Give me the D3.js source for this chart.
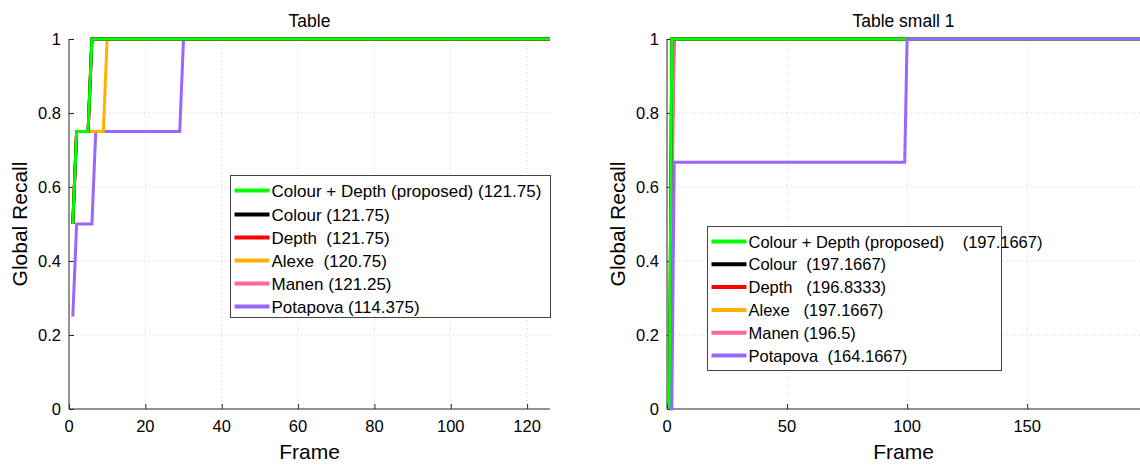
<!DOCTYPE html>
<html>
<head>
<meta charset="utf-8">
<script src="https://cdn.jsdelivr.net/npm/d3@7"></script>
<style>
  body { margin: 0; background: #fff; }
  text { font-family: "Liberation Sans", Arial, sans-serif; fill: #000; }
</style>
</head>
<body>
<div id="vis"></div>
<script>
const width = 1140;
const height = 465;

// series are change points [frame, global recall]
const methods = ["Colour + Depth (proposed)", "Colour", "Depth", "Alexe", "Manen", "Potapova"];
const colours = ["#00ff00", "#000000", "#ff0000", "#ffb000", "#ff6699", "#9966ff"];

const tableLabels = [
  "Colour + Depth (proposed) (121.75)",
  "Colour (121.75)",
  "Depth  (121.75)",
  "Alexe  (120.75)",
  "Manen (121.25)",
  "Potapova (114.375)"
];
const tableSeries = [
  [[1, 0.5], [2, 0.75], [5, 0.75], [6, 1], [126, 1]],
  [[1, 0.5], [2, 0.75], [5, 0.75], [6, 1], [126, 1]],
  [[1, 0.5], [2, 0.75], [5, 0.75], [6, 1], [126, 1]],
  [[1, 0.5], [2, 0.75], [9, 0.75], [10, 1], [126, 1]],
  [[1, 0.5], [2, 0.75], [5, 0.75], [6, 1], [126, 1]],
  [[1, 0.25], [2, 0.5], [6, 0.5], [7, 0.75], [29, 0.75], [30, 1], [126, 1]]
];
const tableXTicks = [0, 20, 40, 60, 80, 100, 120];

const smallLabels = [
  "Colour + Depth (proposed)    (197.1667)",
  "Colour  (197.1667)",
  "Depth   (196.8333)",
  "Alexe   (197.1667)",
  "Manen (196.5)",
  "Potapova  (164.1667)"
];
const smallSeries = [
  [[1, 0], [2, 1], [197, 1]],
  [[1, 0], [2, 1], [197, 1]],
  [[1, 0], [2, 0.6667], [3, 1], [197, 1]],
  [[1, 0], [2, 1], [197, 1]],
  [[1, 0], [2, 0.5], [3, 1], [197, 1]],
  [[1, 0], [2, 0], [3, 0.6667], [99, 0.6667], [100, 1], [197, 1]]
];
const smallXTicks = [0, 50, 100, 150];

const yTicks = [0, 0.2, 0.4, 0.6, 0.8, 1];

const svg = d3.select("#vis")
  .append("svg")
  .attr("width", width)
  .attr("height", height);

function drawPanel(opt) {
  const x = d3.scaleLinear().domain(opt.xDomain).range(opt.xRange);
  const y = d3.scaleLinear().domain([0, 1]).range([409, 39]);
  const g = svg.append("g");

  // dotted grid
  g.selectAll(".gx")
    .data(opt.xTicks.filter(t => t > 0))
    .enter()
    .append("line")
    .attr("x1", d => x(d)).attr("x2", d => x(d))
    .attr("y1", y(0)).attr("y2", y(1))
    .attr("stroke", "#cfcfcf")
    .attr("stroke-dasharray", "1,3");
  g.selectAll(".gy")
    .data(yTicks.filter(t => t > 0))
    .enter()
    .append("line")
    .attr("x1", x(opt.xDomain[0])).attr("x2", opt.xRange[1])
    .attr("y1", d => y(d)).attr("y2", d => y(d))
    .attr("stroke", "#cfcfcf")
    .attr("stroke-dasharray", "1,3");

  // axes, ticks pointing inwards
  const xAxis = g.append("g")
    .attr("transform", `translate(0,${y(0)})`)
    .call(d3.axisTop(x).tickValues(opt.xTicks).tickSize(5).tickFormat(""));
  xAxis.select(".domain").attr("d", `M${opt.xRange[0]},0H${opt.xRange[1]}`);
  const yAxis = g.append("g")
    .attr("transform", `translate(${x(0)},0)`)
    .call(d3.axisRight(y).tickValues(yTicks).tickSize(5).tickFormat(""));
  yAxis.select(".domain").attr("d", `M0,${y(0)}V${y(1)}`);
  g.selectAll(".domain, .tick line").attr("stroke", "#262626");

  g.selectAll(".xl")
    .data(opt.xTicks)
    .enter()
    .append("text")
    .attr("x", d => x(d))
    .attr("y", 432)
    .attr("text-anchor", "middle")
    .attr("font-size", "16.5px")
    .text(d => d);
  g.selectAll(".yl")
    .data(yTicks)
    .enter()
    .append("text")
    .attr("x", x(0) - 8)
    .attr("y", d => y(d) + 6)
    .attr("text-anchor", "end")
    .attr("font-size", "16.5px")
    .text(d => d3.format("~g")(d));

  // lines
  const line = d3.line().x(d => x(d[0])).y(d => y(d[1]));
  opt.order.forEach(i => {
    g.append("path")
      .datum(opt.series[i])
      .attr("fill", "none")
      .attr("stroke", colours[i])
      .attr("stroke-width", 3)
      .attr("d", line);
  });

  g.append("text")
    .attr("x", (opt.xRange[0] + opt.xRange[1]) / 2)
    .attr("y", 27)
    .attr("text-anchor", "middle")
    .attr("font-size", "17.5px")
    .text(opt.title);
  g.append("text")
    .attr("x", (opt.xRange[0] + opt.xRange[1]) / 2)
    .attr("y", 459)
    .attr("text-anchor", "middle")
    .attr("font-size", "21px")
    .text("Frame");
  g.append("text")
    .attr("transform", `translate(${opt.xRange[0] - 42},224) rotate(-90)`)
    .attr("text-anchor", "middle")
    .attr("font-size", "21px")
    .text("Global Recall");

  // legend
  const lg = g.append("g").attr("transform", `translate(${opt.legend[0]},${opt.legend[1]})`);
  lg.append("rect")
    .attr("width", opt.legend[2])
    .attr("height", opt.legend[3])
    .attr("fill", "#fff")
    .attr("stroke", "#444");
  methods.forEach((m, i) => {
    const cy = opt.legendTop + i * opt.legendStep + (i > 0 ? opt.legendGap : 0);
    lg.append("line")
      .attr("x1", 4).attr("x2", 39)
      .attr("y1", cy).attr("y2", cy)
      .attr("stroke", colours[i])
      .attr("stroke-width", 4);
    lg.append("text")
      .attr("x", 41)
      .attr("y", cy + 6)
      .attr("font-size", opt.legendFont)
      .style("white-space", "pre")
      .text(opt.labels[i]);
  });
}

drawPanel({
  title: "Table",
  xDomain: [0, 126],
  xRange: [69, 550],
  xTicks: tableXTicks,
  series: tableSeries,
  labels: tableLabels,
  order: [5, 4, 3, 2, 1, 0],
  legend: [230.5, 175.5, 320, 142],
  legendTop: 15,
  legendStep: 23,
  legendGap: 1,
  legendFont: "17px"
});

drawPanel({
  title: "Table small 1",
  xDomain: [0, 197],
  xRange: [667, 1140],
  xTicks: smallXTicks,
  series: smallSeries,
  labels: smallLabels,
  order: [2, 4, 3, 1, 0, 5],
  legend: [707.5, 226.5, 294, 144],
  legendTop: 15,
  legendStep: 22.8,
  legendGap: 0,
  legendFont: "16.5px"
});
</script>
</body>
</html>
